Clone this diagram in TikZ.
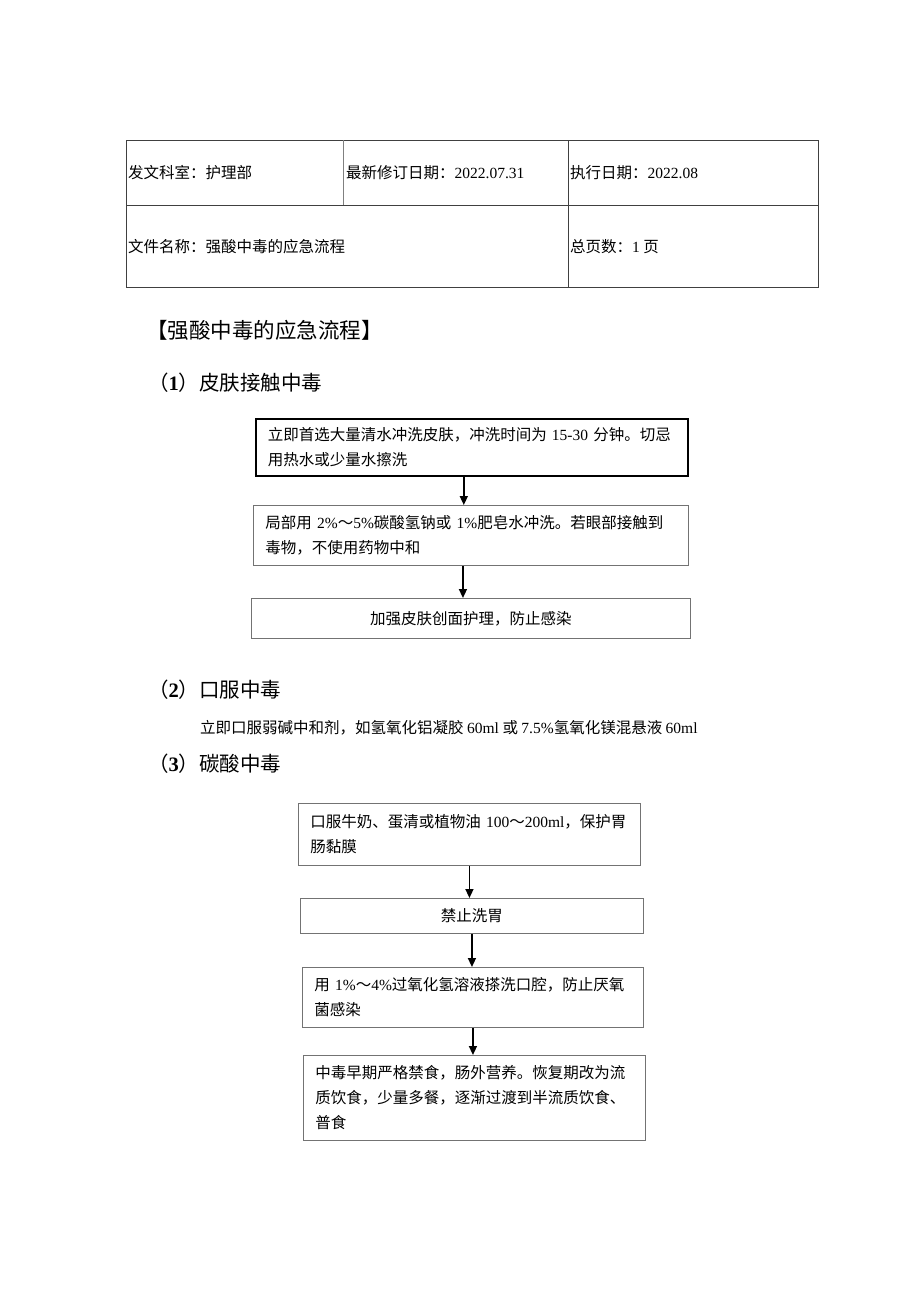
\documentclass[tikz,border=0pt]{standalone}
\usepackage{fontspec}
\setmainfont{Noto Sans CJK SC}
\newfontfamily\tnr{Liberation Serif}
\usetikzlibrary{arrows.meta}
\newcommand{\nm}[1]{{\tnr #1}}
\tikzset{
  cell/.style={font=\fontsize{15.5}{18}\selectfont, anchor=west, inner sep=0pt},
  flowbox/.style={draw=black!55, line width=0.9pt, anchor=north west, inner xsep=12pt, inner ysep=0pt,
     align=left, font=\fontsize{15.5}{25}\selectfont},
  arr/.style={line width=1.5pt, -{Triangle[length=9pt,width=8pt]}},
  heading/.style={font=\fontsize{20.5}{24}\selectfont, anchor=west, inner sep=0pt},
}
\begin{document}
\begin{tikzpicture}[x=1pt,y=-1pt]
\useasboundingbox[fill=white] (0,0) rectangle (920,1301);
% table
\draw[line width=0.8pt, black!75] (126,140) rectangle (818,287);
\draw[line width=0.8pt, black!75] (126,205) -- (818,205);
\draw[line width=0.8pt, black!50] (343,140) -- (343,205);
\draw[line width=0.8pt, black!75] (568,140) -- (568,287);
\node[cell] (t1) at (128,173) {发文科室：护理部};
\node[cell] (t2) at (346,173) {最新修订日期：\nm{2022.07.31}};
\node[cell] (t3) at (570,173) {执行日期：\nm{2022.08}};
\node[cell] (t4) at (128,247) {文件名称：强酸中毒的应急流程};
\node[cell] (t5) at (570,247) {总页数：\nm{1} 页};
% headings
\node[heading, font=\fontsize{21.5}{24}\selectfont] (h0) at (146,330) {【强酸中毒的应急流程】};
\node[heading] (h1) at (148,383) {（{\tnr\bfseries 1}）皮肤接触中毒};
\node[heading] (h2) at (148,690) {（{\tnr\bfseries 2}）口服中毒};
\node[cell, font=\fontsize{15.5}{18}\selectfont] (p2) at (200,728) {立即口服弱碱中和剂，如氢氧化铝凝胶 \nm{60ml} 或 \nm{7.5\%}氢氧化镁混悬液 \nm{60ml}};
\node[heading] (h3) at (148,764) {（{\tnr\bfseries 3}）碳酸中毒};
% flow 1
\node[flowbox, draw=black, line width=1.6pt, text width=408pt, minimum height=57pt] (a1) at (255,418)
  {立即首选大量清水冲洗皮肤，冲洗时间为 \nm{15-30} 分钟。切忌\\用热水或少量水擦洗};
\node[flowbox, text width=411pt, minimum height=60pt] (a2) at (253,505)
  {局部用 \nm{2\%}～\nm{5\%}碳酸氢钠或 \nm{1\%}肥皂水冲洗。若眼部接触到\\毒物，不使用药物中和};
\node[flowbox, text width=415pt, minimum height=40pt, align=center] (a3) at (251,598)
  {加强皮肤创面护理，防止感染};
\draw[arr] ([xshift=-8pt]a1.south) -- ([xshift=-8pt]a1.south |- a2.north);
\draw[arr] ([xshift=-8pt]a2.south) -- ([xshift=-8pt]a2.south |- a3.north);
% flow 3
\node[flowbox, text width=318pt, minimum height=62pt] (b1) at (298,803)
  {口服牛奶、蛋清或植物油 \nm{100}～\nm{200ml}，保护胃\\肠黏膜};
\node[flowbox, text width=319pt, minimum height=35pt, align=center] (b2) at (300,898)
  {禁止洗胃};
\node[flowbox, text width=317pt, minimum height=60pt] (b3) at (302,967)
  {用 \nm{1\%}～\nm{4\%}过氧化氢溶液搽洗口腔，防止厌氧\\菌感染};
\node[flowbox, text width=318pt, minimum height=85pt] (b4) at (303,1055)
  {中毒早期严格禁食，肠外营养。恢复期改为流\\质饮食，少量多餐，逐渐过渡到半流质饮食、\\普食};
\draw[arr] (b1.south) -- (b1.south |- b2.north);
\draw[arr] (b2.south) -- (b2.south |- b3.north);
\draw[arr] (b3.south) -- (b3.south |- b4.north);
\end{tikzpicture}
\end{document}
